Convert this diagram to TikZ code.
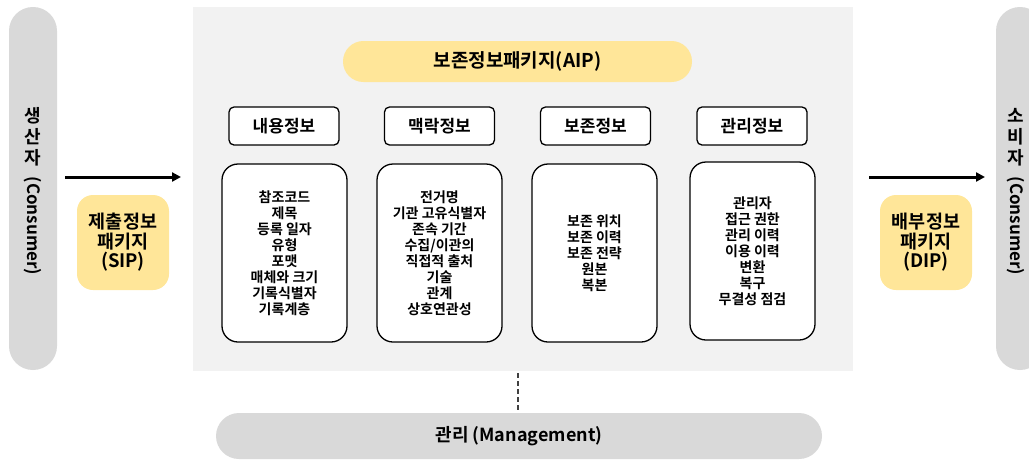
\documentclass[tikz,border=0pt]{standalone}
\usepackage{fontspec}
\setmainfont{Noto Sans CJK KR}[BoldFont={Noto Sans CJK KR Bold}]
\usetikzlibrary{arrows.meta}
\definecolor{pillgray}{HTML}{D9D9D9}
\definecolor{bggray}{HTML}{F2F2F2}
\definecolor{pkgyellow}{HTML}{FFE699}
\begin{document}
\begin{tikzpicture}[x=1pt,y=-1pt,
  every node/.style={inner sep=0pt, outer sep=0pt, font=\bfseries},
  pill/.style={fill=pillgray, draw=none, rounded corners=23.9pt},
  bgbox/.style={fill=bggray, draw=none},
  pkg/.style={fill=pkgyellow, draw=none, rounded corners=16pt, align=center,
    font=\bfseries\fontsize{18.5}{19.5}\selectfont},
  headbox/.style={fill=white, draw=black, line width=1.3pt, rounded corners=5pt,
    minimum width=110pt, minimum height=38pt, font=\bfseries\fontsize{17}{18}\selectfont},
  itembox/.style={fill=white, draw=black, line width=1.3pt, rounded corners=16pt,
    minimum width=125pt, minimum height=178pt, align=center,
    font=\bfseries\fontsize{14}{16}\selectfont},
  flow/.style={line width=3pt, -{Triangle[length=9pt,width=9pt]}},
  sidek/.style={align=center, font=\bfseries\fontsize{18}{21}\selectfont},
  sidee/.style={rotate=-90, font=\bfseries\fontsize{17}{18}\selectfont}
]
\useasboundingbox (0,0) rectangle (1029,459);
\clip (0,0) rectangle (1029,459);

% side actors
\node[pill, minimum width=48pt, minimum height=363pt] (lp) at (33,188.5) {};
\node[pill, minimum width=48pt, minimum height=363pt] (rp) at (1020,188.5) {};
\node[sidek] (lpk) at (33,137) {생\\산\\자};
\node[sidee] (lpe) at (33,226) {(Consumer)};
\node[sidek] (rpk) at (1016,137) {소\\비\\자};
\node[sidee] (rpe) at (1016,226) {(Consumer)};

% archive background
\node[bgbox, minimum width=660pt, minimum height=364pt] (bg) at (523,189) {};

% AIP title
\node[pkg, rounded corners=20.4pt, minimum width=349pt, minimum height=41pt,
  font=\bfseries\fontsize{19}{20}\selectfont] (aip) at (517.5,61.5) {보존정보패키지(AIP)};

% headers
\node[headbox] (h1) at (284,126) {내용정보};
\node[headbox] (h2) at (439.5,126) {맥락정보};
\node[headbox] (h3) at (595.5,126) {보존정보};
\node[headbox] (h4) at (752,126) {관리정보};

% item boxes
\node[itembox] (b1) at (284.5,253) {참조코드\\제목\\등록 일자\\유형\\포맷\\매체와 크기\\기록식별자\\기록계층};
\node[itembox] (b2) at (439.5,253) {전거명\\기관 고유식별자\\존속 기간\\수집/이관의\\직접적 출처\\기술\\관계\\상호연관성};
\node[itembox] (b3) at (594.5,253) {보존 위치\\보존 이력\\보존 전략\\원본\\복본};
\node[itembox] (b4) at (752.5,251) {관리자\\접근 권한\\관리 이력\\이용 이력\\변환\\복구\\무결성 점검};

% packages
\node[pkg, minimum width=92pt, minimum height=95pt] (sip) at (123,242.5) {제출정보\\패키지\\(SIP)};
\node[pkg, minimum width=92pt, minimum height=95pt] (dip) at (926,242.5) {배부정보\\패키지\\(DIP)};

% flows
\coordinate (s1) at (65,177);
\coordinate (e1) at (181,177);
\coordinate (s2) at (869,177);
\coordinate (e2) at (985,177);
\draw[flow] (s1) -- (e1);
\draw[flow] (s2) -- (e2);

% management
\node[pill, rounded corners=23pt, minimum width=606pt, minimum height=46pt,
  font=\bfseries\fontsize{18}{19}\selectfont] (mg) at (519,436) {관리 (Management)};
\draw[line width=1.3pt, draw=black!75, dash pattern=on 4.5pt off 3.5pt, shorten <=2pt, shorten >=3pt]
  (bg.south -| 518,0) -- (mg.north -| 518,0);
\end{tikzpicture}
\end{document}
